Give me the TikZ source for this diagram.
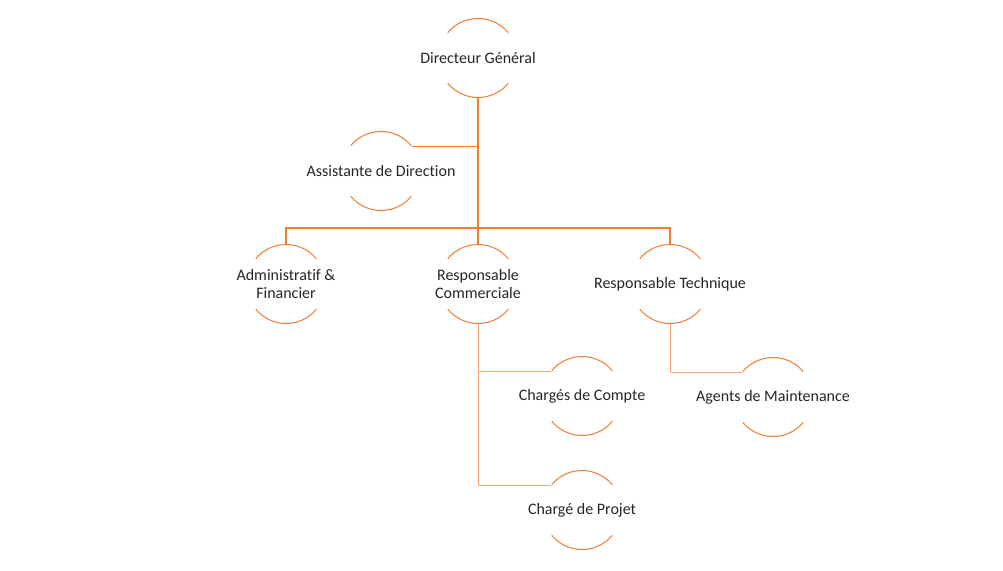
\documentclass[tikz,border=0pt]{standalone}
\usepackage{fontspec}
\setmainfont{Carlito}[Ligatures=NoCommon]
\definecolor{acc}{HTML}{ED7D31}
\definecolor{accl}{HTML}{F1A878}
\begin{document}
\begin{tikzpicture}[x=0.75pt,y=0.75pt,
  role/.style={draw=none,inner sep=0pt,align=center,
    font=\fontsize{12}{13.5}\selectfont,text=black!85},
  ring/.style={draw=acc,line width=0.75pt},
  conn/.style={draw=acc,line width=0.9pt},
  connl/.style={draw=accl,line width=0.75pt}]
\useasboundingbox (0,0) rectangle (1003,-571);
\node[role] (dg) at (478,-58) {Directeur Général};
\node[role] (as) at (381,-171) {Assistante de Direction};
\node[role] (ad) at (286,-284) {Administratif \&\\Financier};
\node[role] (rc) at (478,-284) {Responsable\\Commerciale};
\node[role] (rt) at (670,-284) {Responsable Technique};
\node[role] (cc) at (582,-396) {Chargés de Compte};
\node[role] (cp) at (582,-510) {Chargé de Projet};
\node[role] (am) at (773,-397) {Agents de Maintenance};
\foreach \n in {dg,as,ad,rc,rt,cc,cp,am}{
  \draw[ring] (\n.center) ++(40:39.5) arc[start angle=40,end angle=140,radius=39.5];
  \draw[ring] (\n.center) ++(220:39.5) arc[start angle=220,end angle=320,radius=39.5];
  \path (\n.center) ++(0,39.5) coordinate (\n N);
  \path (\n.center) ++(0,-39.5) coordinate (\n S);
  \path (\n.center) ++(39:39.5) coordinate (\n R);
  \path (\n.center) ++(141:39.5) coordinate (\n L);
}
\coordinate (bus) at (478,-228);
\draw[conn] (dgS) -- (rcN);
\draw[conn] (asR) -- (asR -| dgS);
\draw[conn] (adN) |- (bus) -| (rtN);
\draw[connl] (rcS) |- (ccL);
\draw[connl] (rcS) |- (cpL);
\draw[connl] (rtS) |- (amL);
\end{tikzpicture}
\end{document}
